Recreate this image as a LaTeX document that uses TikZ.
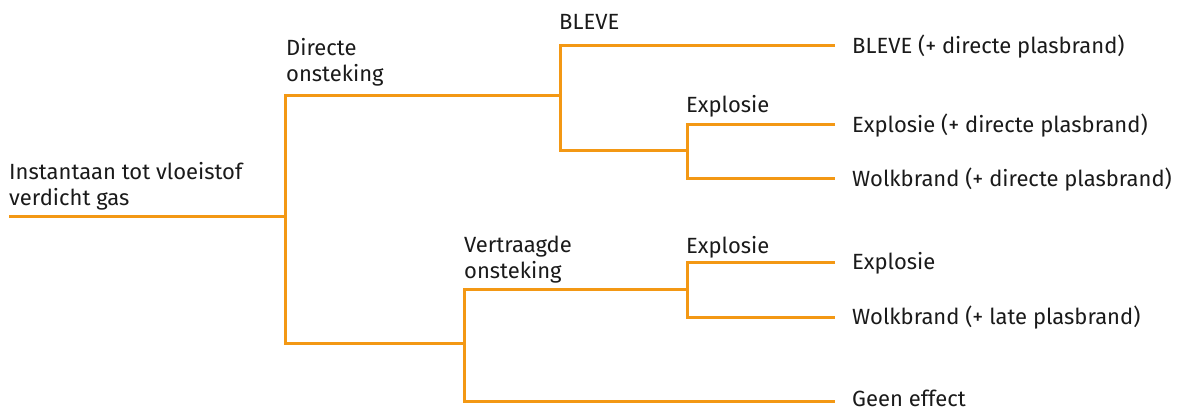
\documentclass[tikz,border=0pt]{standalone}
\usepackage{fontspec}
\setmainfont{Fira Sans}
\definecolor{branch}{RGB}{243,152,20}
\definecolor{ink}{RGB}{26,26,26}
\begin{document}
\begin{tikzpicture}[x=1pt,y=-1pt,
  edge/.style={draw=branch,line width=3pt},
  lbl/.style={anchor=base west,inner sep=0pt,align=left,text=ink,font=\fontsize{22}{26}\selectfont},
  endlbl/.style={anchor=base west,inner sep=0pt,xshift=17pt,yshift=-7.5pt,text=ink,font=\fontsize{22}{26}\selectfont}]
\useasboundingbox (0,0) rectangle (1184,409);
% branch points
\coordinate (r0) at (9,216);
\coordinate (j1) at (285,216);
\coordinate (d0) at (285,96);
\coordinate (v0) at (285,343);
\coordinate (d1) at (560,96);
\coordinate (b0) at (560,46);
\coordinate (e0) at (560,151);
\coordinate (e1) at (687,151);
\coordinate (x0) at (687,125);
\coordinate (w0) at (687,179);
\coordinate (v1) at (464,343);
\coordinate (vt) at (464,289);
\coordinate (vb) at (464,401);
\coordinate (vt1) at (687,289);
\coordinate (x2) at (687,262);
\coordinate (w2) at (687,317);
% line ends
\coordinate (k1) at (835,46);
\coordinate (k2) at (835,125);
\coordinate (k3) at (835,179);
\coordinate (k4) at (835,262);
\coordinate (k5) at (835,317);
\coordinate (k6) at (835,401);
% end labels
\node[endlbl] (o1) at (k1) {BLEVE (+ directe plasbrand)};
\node[endlbl] (o2) at (k2) {Explosie (+ directe plasbrand)};
\node[endlbl] (o3) at (k3) {Wolkbrand (+ directe plasbrand)};
\node[endlbl] (o4) at (k4) {Explosie};
\node[endlbl] (o5) at (k5) {Wolkbrand (+ late plasbrand)};
\node[endlbl,yshift=2.5pt] (o6) at (k6) {Geen effect};
% branch labels (base = last line)
\node[lbl] (t0) at (9,205) {Instantaan tot vloeistof\\verdicht gas};
\node[lbl] (t1) at (286,82) {Directe\\onsteking};
\node[lbl] (t2) at (559,30) {BLEVE};
\node[lbl] (t3) at (686,113) {Explosie};
\node[lbl] (t4) at (464,278) {Vertraagde\\onsteking};
\node[lbl] (t5) at (686,253) {Explosie};
% connectors
\draw[edge] (r0) -- (j1);
\draw[edge] (d1) -- (d0) -- (v0) -- (v1);
\draw[edge] (k1) -- (b0) -- (e0) -- (e1);
\draw[edge] (d1) -- (b0);
\draw[edge] (k2) -- (x0) -- (w0) -- (k3);
\draw[edge] (e1) -- (x0);
\draw[edge] (v1) -- (vt) -- (vt1);
\draw[edge] (v1) -- (vb) -- (k6);
\draw[edge] (k4) -- (x2) -- (w2) -- (k5);
\end{tikzpicture}
\end{document}
